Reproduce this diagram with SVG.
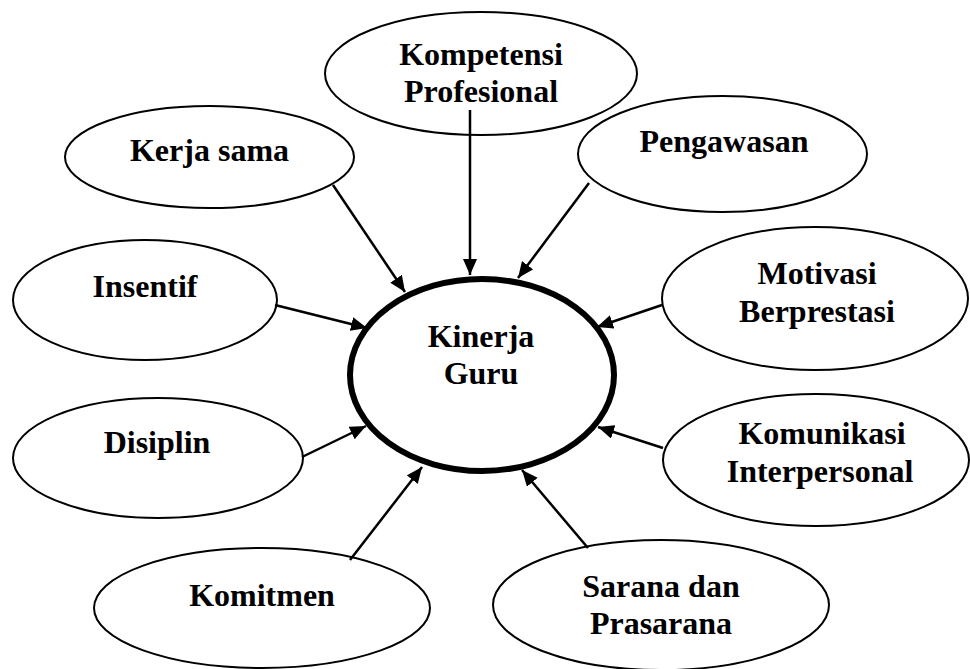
<svg xmlns="http://www.w3.org/2000/svg" width="970" height="669" viewBox="0 0 970 669">
<style>
.node ellipse{fill:#fff;stroke:#000;stroke-width:2}
.node text{font-family:"Liberation Serif","Times New Roman",serif;font-weight:bold;font-size:32px;text-anchor:middle;fill:#000}
#kinerja ellipse{stroke-width:6}
.edges line{stroke:#000;stroke-width:2.5;marker-end:url(#arrow)}
</style>
<defs>
<marker id="arrow" viewBox="0 0 16 14" markerWidth="16" markerHeight="14" refX="16" refY="7" orient="auto" markerUnits="userSpaceOnUse">
<path d="M0,0 L16,7 L0,14 z" fill="#000"/>
</marker>
</defs>
<rect width="970" height="669" fill="#fff"/>
<g id="kompetensi" class="node"><ellipse cx="481" cy="73.5" rx="156" ry="61.5"/><text x="481" y="65">Kompetensi</text><text x="481" y="102">Profesional</text></g>
<g id="pengawasan" class="node"><ellipse cx="722.5" cy="154" rx="144.5" ry="58"/><text x="724" y="152">Pengawasan</text></g>
<g id="kerjasama" class="node"><ellipse cx="209.5" cy="157" rx="144.5" ry="51"/><text x="209.5" y="161">Kerja sama</text></g>
<g id="insentif" class="node"><ellipse cx="145" cy="300" rx="132" ry="60"/><text x="145" y="297">Insentif</text></g>
<g id="motivasi" class="node"><ellipse cx="815" cy="298.5" rx="153" ry="71.5"/><text x="817" y="284">Motivasi</text><text x="817" y="322">Berprestasi</text></g>
<g id="kinerja" class="node"><ellipse cx="482" cy="375" rx="132" ry="96"/><text x="481" y="347">Kinerja</text><text x="481" y="384">Guru</text></g>
<g id="disiplin" class="node"><ellipse cx="158" cy="458" rx="145" ry="60"/><text x="157" y="453">Disiplin</text></g>
<g id="komunikasi" class="node"><ellipse cx="816" cy="460" rx="153" ry="66"/><text x="822" y="444">Komunikasi</text><text x="820" y="482">Interpersonal</text></g>
<g id="komitmen" class="node"><ellipse cx="262" cy="608" rx="168" ry="60"/><text x="262" y="606">Komitmen</text></g>
<g id="sarana" class="node"><ellipse cx="661" cy="605" rx="168" ry="65"/><text x="661" y="597">Sarana dan</text><text x="661" y="634">Prasarana</text></g>
<g id="connectors" class="edges">
<line x1="470" y1="110" x2="470" y2="275"/>
<line x1="333" y1="185" x2="405" y2="292"/>
<line x1="589" y1="183" x2="518" y2="278"/>
<line x1="275" y1="305" x2="367" y2="328"/>
<line x1="662" y1="305" x2="597" y2="327"/>
<line x1="302" y1="457" x2="366" y2="426"/>
<line x1="663" y1="448" x2="598" y2="427"/>
<line x1="350" y1="560" x2="422" y2="467"/>
<line x1="588" y1="548" x2="522" y2="470"/>
</g>
</svg>
